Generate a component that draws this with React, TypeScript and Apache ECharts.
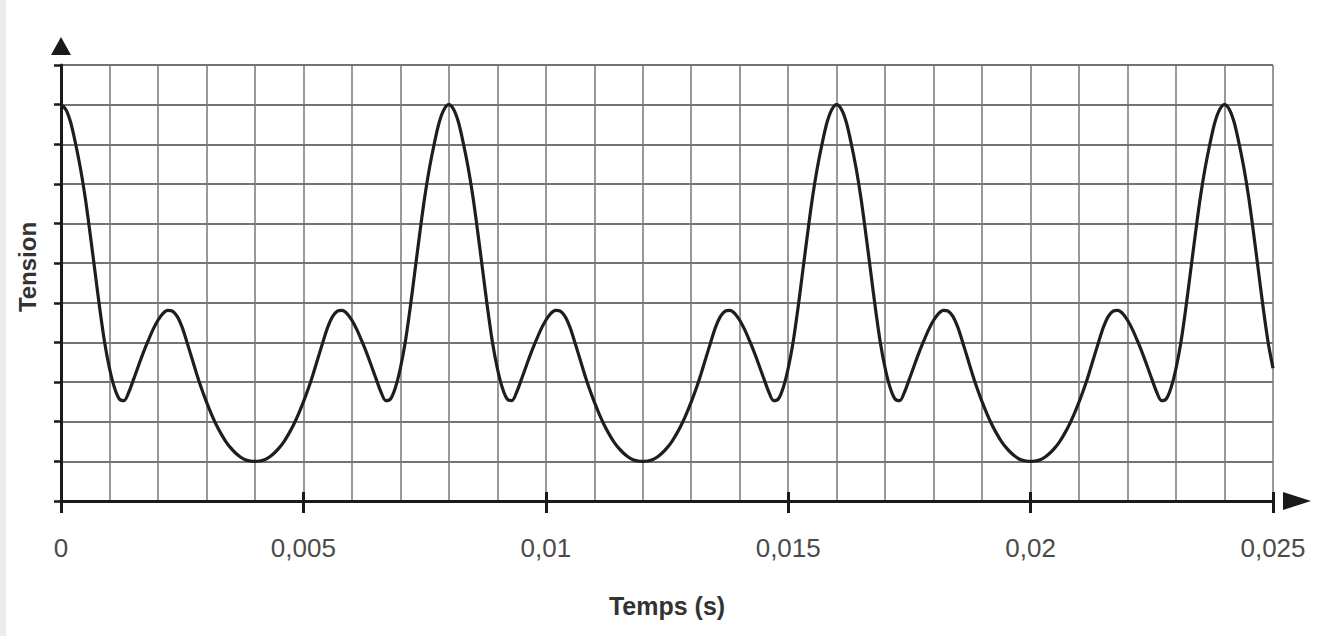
import React, { useEffect, useRef } from "react";
import * as echarts from "echarts";

// Time step of the sampled curve (s)
const timeStep = 0.0001;

// Tension readings (grid units) every 0.0001 s.
// Period 1: t = 0 ... 0.0079 s
const tensionPeriod1 = [
  10, 9.88, 9.55, 9.02, 8.4, 7.65, 6.75, 5.8, 4.85, 4.0,
  3.35, 2.87, 2.58, 2.53, 2.75, 3.08, 3.42, 3.75, 4.05, 4.33,
  4.56, 4.73, 4.81, 4.79, 4.65, 4.38, 4.0, 3.6, 3.2, 2.83,
  2.5, 2.2, 1.93, 1.7, 1.5, 1.34, 1.21, 1.11, 1.04, 1.01,
  1.0, 1.01, 1.04, 1.11, 1.21, 1.34, 1.5, 1.7, 1.93, 2.2,
  2.5, 2.83, 3.2, 3.6, 4.0, 4.38, 4.65, 4.79, 4.81, 4.73,
  4.56, 4.33, 4.05, 3.75, 3.42, 3.08, 2.75, 2.53, 2.58, 2.87,
  3.35, 4.0, 4.85, 5.8, 6.75, 7.65, 8.4, 9.02, 9.55, 9.88,
];
// Period 2: t = 0.008 ... 0.0159 s
const tensionPeriod2 = [
  10, 9.88, 9.55, 9.02, 8.4, 7.65, 6.75, 5.8, 4.85, 4.0,
  3.35, 2.87, 2.58, 2.53, 2.75, 3.08, 3.42, 3.75, 4.05, 4.33,
  4.56, 4.73, 4.81, 4.79, 4.65, 4.38, 4.0, 3.6, 3.2, 2.83,
  2.5, 2.2, 1.93, 1.7, 1.5, 1.34, 1.21, 1.11, 1.04, 1.01,
  1.0, 1.01, 1.04, 1.11, 1.21, 1.34, 1.5, 1.7, 1.93, 2.2,
  2.5, 2.83, 3.2, 3.6, 4.0, 4.38, 4.65, 4.79, 4.81, 4.73,
  4.56, 4.33, 4.05, 3.75, 3.42, 3.08, 2.75, 2.53, 2.58, 2.87,
  3.35, 4.0, 4.85, 5.8, 6.75, 7.65, 8.4, 9.02, 9.55, 9.88,
];
// Period 3: t = 0.016 ... 0.0239 s
const tensionPeriod3 = [
  10, 9.88, 9.55, 9.02, 8.4, 7.65, 6.75, 5.8, 4.85, 4.0,
  3.35, 2.87, 2.58, 2.53, 2.75, 3.08, 3.42, 3.75, 4.05, 4.33,
  4.56, 4.73, 4.81, 4.79, 4.65, 4.38, 4.0, 3.6, 3.2, 2.83,
  2.5, 2.2, 1.93, 1.7, 1.5, 1.34, 1.21, 1.11, 1.04, 1.01,
  1.0, 1.01, 1.04, 1.11, 1.21, 1.34, 1.5, 1.7, 1.93, 2.2,
  2.5, 2.83, 3.2, 3.6, 4.0, 4.38, 4.65, 4.79, 4.81, 4.73,
  4.56, 4.33, 4.05, 3.75, 3.42, 3.08, 2.75, 2.53, 2.58, 2.87,
  3.35, 4.0, 4.85, 5.8, 6.75, 7.65, 8.4, 9.02, 9.55, 9.88,
];
// Tail: t = 0.024 ... 0.025 s
const tensionTail = [10, 9.88, 9.55, 9.02, 8.4, 7.65, 6.75, 5.8, 4.85, 4.0, 3.35];

const xMin = 0;
const xMax = 0.025;
const xGridStep = 0.001;
const xLabelStep = 0.005;
const yMin = 0;
const yMax = 11;
const yStep = 1;

const xTitle = "Temps (s)";
const yTitle = "Tension";

const tension = [...tensionPeriod1, ...tensionPeriod2, ...tensionPeriod3, ...tensionTail];

export default function App() {
  const ref = useRef<HTMLDivElement>(null);

  useEffect(() => {
    if (!ref.current) return;
    const chart = echarts.init(ref.current, null, { renderer: "svg" });
    const data = tension.map((v, i) => [+(i * timeStep).toFixed(4), v]);
    const labelFmt = (v: number) => {
      const k = Math.round(v * 1000);
      if (k % Math.round(xLabelStep * 1000) !== 0) return "";
      return String(k / 1000).replace(".", ",");
    };
    const option: any = {
      animation: false,
      backgroundColor: "#ffffff",
      grid: { left: 61, right: 44, top: 65, bottom: 135, containLabel: false },
      xAxis: [
        {
          type: "value",
          min: xMin,
          max: xMax,
          interval: xGridStep,
          name: xTitle,
          nameLocation: "middle",
          nameGap: 92,
          nameTextStyle: {
            fontFamily: "Liberation Sans, Arial, sans-serif",
            fontWeight: "bold",
            fontSize: 25,
            color: "#333",
          },
          axisLine: {
            show: true,
            onZero: false,
            symbol: ["none", "triangle"],
            symbolSize: [18, 28],
            symbolOffset: [0, 24],
            lineStyle: { color: "#1a1a1a", width: 3 },
          },
          axisTick: { show: false },
          axisLabel: {
            show: true,
            formatter: labelFmt,
            margin: 34,
            fontFamily: "Liberation Sans, Arial, sans-serif",
            fontSize: 26,
            color: "#4a4a4a",
            showMinLabel: true,
            showMaxLabel: true,
            hideOverlap: false,
          },
          splitLine: { show: true, lineStyle: { color: "#777", width: 1.5 } },
        },
        {
          type: "value",
          min: xMin,
          max: xMax,
          interval: xLabelStep,
          position: "bottom",
          axisLine: { show: false, onZero: false },
          axisTick: { show: true, inside: false, length: 12, lineStyle: { color: "#1a1a1a", width: 3 } },
          axisLabel: { show: false },
          splitLine: { show: false },
        },
        {
          type: "value",
          min: xMin,
          max: xMax,
          interval: xLabelStep,
          position: "bottom",
          axisLine: { show: false, onZero: false },
          axisTick: { show: true, inside: true, length: 9, lineStyle: { color: "#1a1a1a", width: 3 } },
          axisLabel: { show: false },
          splitLine: { show: false },
        },
      ],
      yAxis: {
        type: "value",
        min: yMin,
        max: yMax,
        interval: yStep,
        axisLine: {
          show: true,
          onZero: false,
          symbol: ["none", "triangle"],
          symbolSize: [20, 18],
          symbolOffset: [0, 19],
          lineStyle: { color: "#1a1a1a", width: 3 },
        },
        axisTick: { show: true, inside: false, length: 7, lineStyle: { color: "#1a1a1a", width: 2.5 } },
        axisLabel: { show: false },
        splitLine: { show: true, lineStyle: { color: "#444", width: 1.5 } },
      },
      graphic: [
        {
          type: "rect",
          left: 0,
          top: 0,
          shape: { width: 6, height: 636 },
          style: { fill: "#ececec" },
          silent: true,
        },
        {
          type: "text",
          x: 27,
          y: 267,
          rotation: Math.PI / 2,
          style: {
            text: yTitle,
            fontFamily: "Liberation Sans, Arial, sans-serif",
            fontWeight: "bold",
            fontSize: 24,
            fill: "#333",
            align: "center",
            verticalAlign: "middle",
          },
        },
      ],
      series: [
        {
          type: "line",
          xAxisIndex: 0,
          data,
          smooth: 0.3,
          symbol: "none",
          lineStyle: { color: "#1e1e1e", width: 3.2 },
          z: 5,
        },
      ],
    };
    chart.setOption(option);
    return () => chart.dispose();
  }, []);

  return (
    <div
      ref={ref}
      style={{ position: "fixed", left: 0, top: 0, width: 1317, height: 636 }}
    />
  );
}
